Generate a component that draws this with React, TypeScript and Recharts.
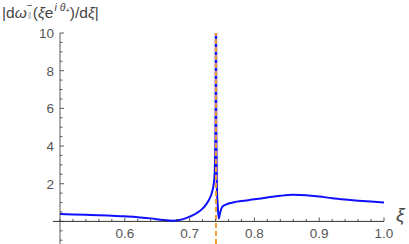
import { LineChart, Line, XAxis, YAxis, ReferenceLine } from "recharts";

// sampled |dω/dξ| curve, pole near ξ ≈ 0.7407
const xi = [
  0.5, 0.52, 0.54, 0.56, 0.58, 0.6, 0.62, 0.64, 0.66, 0.675, 0.69, 0.7, 0.71, 0.72, 0.725,
  0.73, 0.735, 0.738, 0.7395, 0.7402, 0.7406, 0.7408, 0.7412, 0.742, 0.7435, 0.745, 0.747,
  0.75, 0.755, 0.76, 0.77, 0.78, 0.8, 0.82, 0.84, 0.86, 0.88, 0.9, 0.92, 0.94, 0.96, 0.98, 1.0,
];
const dOmega = [
  0.39, 0.37, 0.35, 0.33, 0.3, 0.27, 0.22, 0.16, 0.07, 0.04, 0.12, 0.25, 0.42, 0.68, 0.88,
  1.15, 1.6, 2.2, 3.5, 6, 14, 14, 5, 2, 0.8, 0.15, 0.45,
  0.75, 0.88, 0.95, 1.03, 1.08, 1.17, 1.27, 1.36, 1.41, 1.39, 1.32, 1.23, 1.16, 1.1, 1.05, 1.0,
];
const poleXi = 0.7407;

const xMajor = [0.6, 0.7, 0.8, 0.9, 1.0];
const xTicks = [
  0.5, 0.52, 0.54, 0.56, 0.58, 0.6, 0.62, 0.64, 0.66, 0.68, 0.7, 0.72, 0.74, 0.76, 0.78,
  0.8, 0.82, 0.84, 0.86, 0.88, 0.9, 0.92, 0.94, 0.96, 0.98, 1.0,
];
const yMajor = [2, 4, 6, 8, 10];
const yTicks = [
  -1, -0.5, 0, 0.5, 1, 1.5, 2, 2.5, 3, 3.5, 4, 4.5, 5, 5.5, 6, 6.5, 7, 7.5, 8, 8.5, 9, 9.5, 10,
];

const W = 409;
const H = 244;
const TOP = 33;
const X_AXIS_H = 20; // drawn below the visible area, ticks are shifted up to y = 0
const Y_MIN = -1.2;
const Y_MAX = 10;
const PLOT_H = H - TOP;
const ZERO_OFFSET = (PLOT_H * (0 - Y_MIN)) / (Y_MAX - Y_MIN);

const font = '"Liberation Sans", Arial, sans-serif';
const labelColor = "#555";
const axisColor = "#333";

const data = xi.map((x, i) => ({ xi: x, v: dOmega[i] }));

const isMajor = (list: number[], v: number) => list.some((m) => Math.abs(m - v) < 1e-9);

const XTick = (props: any) => {
  const { x, y, payload } = props;
  const zeroY = y - ZERO_OFFSET;
  const major = isMajor(xMajor, payload.value);
  return (
    <g>
      <line x1={x} x2={x} y1={zeroY} y2={zeroY - (major ? 4 : 2.5)} stroke={axisColor} strokeWidth={0.8} />
      {major && (
        <text x={x} y={zeroY + 16.5} textAnchor="middle" fontSize={13.5} fill={labelColor} fontFamily={font}>
          {payload.value.toFixed(1)}
        </text>
      )}
    </g>
  );
};

const YTick = (props: any) => {
  const { x, y, payload } = props;
  const major = isMajor(yMajor, payload.value) || payload.value === 0;
  return (
    <g>
      <line x1={x} x2={x + (major ? 4 : 2.5)} y1={y} y2={y} stroke={axisColor} strokeWidth={0.8} />
      {isMajor(yMajor, payload.value) && (
        <text x={x - 6} y={y} dy="0.36em" textAnchor="end" fontSize={13.5} fill={labelColor} fontFamily={font}>
          {payload.value}
        </text>
      )}
    </g>
  );
};

export default function App() {
  return (
    <div style={{ position: "absolute", left: 0, top: 0, width: W, height: H, overflow: "hidden", background: "#fff" }}>
      <div
        style={{
          position: "absolute",
          left: 2,
          top: 3,
          fontFamily: font,
          fontSize: 15.5,
          color: "#444",
          whiteSpace: "nowrap",
          lineHeight: "20px",
        }}
      >
        |d<i>ω</i>
        <span style={{ position: "relative", display: "inline-block", width: 6, height: 10 }}>
          <span style={{ position: "absolute", left: 0, top: -7, fontSize: 10, lineHeight: "9px" }}>−</span>
          <span style={{ position: "absolute", left: 1, top: 4, fontSize: 9, lineHeight: "9px", color: "#aaa" }}>‖</span>
        </span>
        (<i>ξ</i>e
        <span style={{ fontSize: 10.5, position: "relative", top: -7, marginLeft: 1 }}>
          <i>i</i> <i>θ</i>
          <span style={{ fontSize: 7.5, position: "relative", top: 2 }}>+</span>
        </span>
        )/d<i>ξ</i>|
      </div>
      <LineChart width={W} height={H + X_AXIS_H} data={data} margin={{ top: TOP, right: 25, bottom: 0, left: 0 }}>
        <XAxis
          dataKey="xi"
          type="number"
          domain={[0.5, 1]}
          ticks={xTicks}
          allowDataOverflow
          height={X_AXIS_H}
          axisLine={false}
          tickLine={false}
          tickSize={0}
          tickMargin={0}
          interval={0}
          tick={<XTick />}
        />
        <YAxis
          type="number"
          domain={[Y_MIN, Y_MAX]}
          ticks={yTicks}
          allowDataOverflow
          width={60}
          axisLine={{ stroke: axisColor, strokeWidth: 0.8 }}
          tickLine={false}
          tickSize={0}
          tickMargin={0}
          interval={0}
          tick={<YTick />}
        />
        <ReferenceLine
          segment={[{ x: 0.489, y: 0 }, { x: 1, y: 0 }]}
          ifOverflow="visible"
          stroke={axisColor}
          strokeWidth={1}
        />
        <Line
          type="monotone"
          dataKey="v"
          stroke="#1010ff"
          strokeWidth={2}
          dot={false}
          activeDot={false}
          isAnimationActive={false}
        />
        <ReferenceLine x={poleXi} stroke="#f39b32" strokeWidth={2} strokeDasharray="5 3" />
      </LineChart>
      <div
        style={{
          position: "absolute",
          left: 396,
          top: 204,
          fontFamily: font,
          fontSize: 19,
          fontStyle: "italic",
          color: "#444",
        }}
      >
        ξ
      </div>
    </div>
  );
}
